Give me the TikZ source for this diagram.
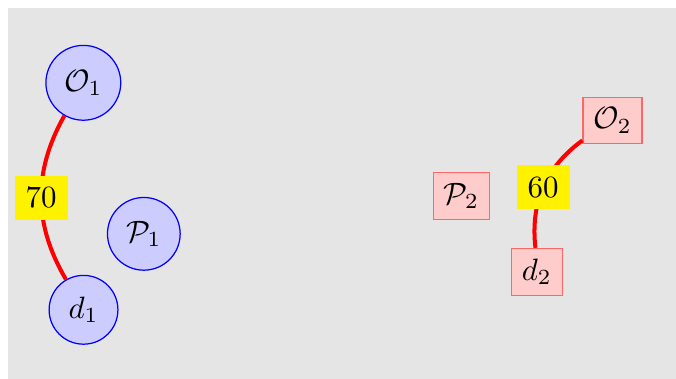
\documentclass[tikz,border=0pt]{standalone}
\usepackage{tikz}
\usetikzlibrary{shapes,arrows,positioning}

\begin{document}
\begin{tikzpicture}
    \tikzset{
        obj/.style = {circle, draw=blue, fill=blue!20, thin},
        place/.style = {rectangle, draw=red!60, fill=red!20, thin},
        line/.style = {draw=red, line width=1.3pt},
        weight/.style = {fill=yellow, inner sep=3.6pt},
    }

    \useasboundingbox (0,0) rectangle (7.69,-4.31);
    \fill[black!10] (0.091,-0.091) rectangle (7.69,-4.31);

    \node[obj](o1) at (0.948,-0.942){$\mathcal{O}_1$};
    \node[obj](p1) at (1.636,-2.660){$\mathcal{P}_1$};
    \node[obj](d1) at (0.950,-3.524){$d_1$};

    \node[place](o2) at (6.968,-1.371){$\mathcal{O}_2$};
    \node[place](p2) at (5.248,-2.230){$\mathcal{P}_2$};
    \node[place](d2) at (6.107,-3.092){$d_2$};

    \path [line] (o1) to[bend right] node[weight]{70} (d1);
    \path [line] (o2) to[bend right] node[weight]{60} (d2);

\end{tikzpicture}
\end{document}
